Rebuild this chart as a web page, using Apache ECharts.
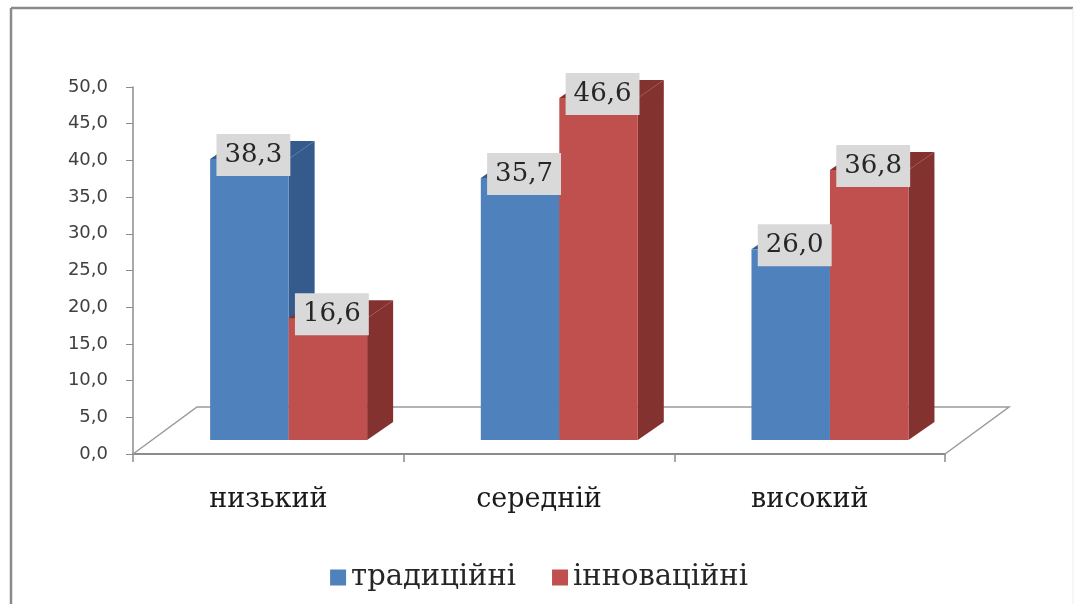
<!DOCTYPE html>
<html>
<head>
<meta charset="utf-8">
<script src="https://cdn.jsdelivr.net/npm/echarts@6/dist/echarts.min.js"></script>
<style>
  html, body { margin: 0; padding: 0; background: #fff; }
  #chart { width: 1078px; height: 604px; }
</style>
</head>
<body>
<div id="chart"></div>
<script>
// дані діаграми
const categories = ['низький', 'середній', 'високий'];
const traditional = [38.3, 35.7, 26.0];
const innovative = [16.6, 46.6, 36.8];
const seriesNames = ['традиційні', 'інноваційні'];

const fmt = (v) => v.toFixed(1).replace('.', ',');

// 3D-стовпчик: передня грань, бічна грань, верх і підпис
const barRenderer = (slot, front, dark) => (params, api) => {
    const cat = api.value(0);
    const val = api.value(1);
    const base = api.coord([cat, 0]);
    const top = api.coord([cat, val]);
    const catW = api.size([1, 0])[0];
    const bw = catW * 0.29;
    const sx = catW * 0.075;
    const sy = 14;
    const dx = 26, dy = 18;
    const x0 = base[0] + sx + (slot === 0 ? -bw : 0);
    const yb = base[1] - sy;
    const yt = top[1] - sy;
    return {
        type: 'group',
        children: [
            {
                type: 'polygon',
                shape: { points: [[x0 + bw, yt], [x0 + bw + dx, yt - dy], [x0 + bw + dx, yb - dy], [x0 + bw, yb]] },
                style: { fill: dark }
            },
            {
                type: 'polygon',
                shape: { points: [[x0, yt], [x0 + dx, yt - dy], [x0 + bw + dx, yt - dy], [x0 + bw, yt]] },
                style: { fill: dark }
            },
            {
                type: 'rect',
                shape: { x: x0, y: yt, width: bw, height: yb - yt },
                style: { fill: front }
            },
            {
                type: 'text',
                z2: 50,
                style: {
                    text: fmt(val),
                    x: x0 + bw / 2 + 4,
                    y: yt - 4,
                    align: 'center',
                    verticalAlign: 'middle',
                    font: '26px "DejaVu Serif"',
                    fill: '#262626',
                    backgroundColor: '#d9d9d9',
                    padding: [8, 8, 8, 8]
                }
            }
        ]
    };
};

// підлога (паралелограм)
const floorRenderer = (params, api) => {
    const cs = params.coordSys;
    const fx = cs.x, fy = cs.y + cs.height;
    const rx = cs.x + cs.width;
    const ddx = 64, ddy = 47;
    return {
        type: 'polyline',
        shape: { points: [[fx, fy], [fx + ddx, fy - ddy], [rx + ddx, fy - ddy], [rx, fy]] },
        style: { stroke: '#9a9a9a', lineWidth: 1.5, fill: null }
    };
};

const chart = echarts.init(document.getElementById('chart'));
const option = {
    animation: false,
    backgroundColor: '#fff',
    graphic: [
        { type: 'line', shape: { x1: 11, y1: 8, x2: 1073, y2: 8 }, style: { stroke: '#8a8a8a', lineWidth: 2.5 } },
        { type: 'line', shape: { x1: 11, y1: 8, x2: 11, y2: 604 }, style: { stroke: '#8a8a8a', lineWidth: 2.5 } },
        { type: 'line', shape: { x1: 1073, y1: 8, x2: 1073, y2: 604 }, style: { stroke: '#ededed', lineWidth: 1 } }
    ],
    legend: {
        data: seriesNames,
        top: 558,
        left: 'center',
        icon: 'rect',
        itemWidth: 16,
        itemHeight: 16,
        itemGap: 36,
        textStyle: { fontFamily: 'DejaVu Serif', fontSize: 29, color: '#262626' }
    },
    grid: { left: 133, right: 133, top: 87, bottom: 150 },
    xAxis: {
        type: 'category',
        data: categories,
        axisLine: { lineStyle: { color: '#8c8c8c', width: 2 } },
        axisTick: { show: true, length: 8, lineStyle: { color: '#8c8c8c', width: 1.5 } },
        axisLabel: { margin: 32, fontFamily: 'DejaVu Serif', fontSize: 27, color: '#1a1a1a' },
        splitLine: { show: false }
    },
    yAxis: {
        type: 'value',
        min: 0,
        max: 50,
        interval: 5,
        axisLine: { show: true, lineStyle: { color: '#8c8c8c', width: 1.5 } },
        axisTick: { show: true, length: 7, lineStyle: { color: '#8c8c8c' } },
        axisLabel: { margin: 25, fontFamily: 'DejaVu Sans', fontSize: 18, color: '#404040', formatter: fmt },
        splitLine: { show: false }
    },
    series: [
        {
            name: 'floor',
            type: 'custom',
            silent: true,
            renderItem: floorRenderer,
            data: [[0, 0]],
            z: 1
        },
        {
            name: seriesNames[0],
            type: 'custom',
            itemStyle: { color: '#4f81bd' },
            renderItem: barRenderer(0, '#4f81bd', '#345b8c'),
            data: traditional.map((v, i) => [i, v]),
            encode: { x: 0, y: 1 }
        },
        {
            name: seriesNames[1],
            type: 'custom',
            itemStyle: { color: '#c0504d' },
            renderItem: barRenderer(1, '#c0504d', '#843230'),
            data: innovative.map((v, i) => [i, v]),
            encode: { x: 0, y: 1 }
        }
    ]
};
chart.setOption(option);
</script>
</body>
</html>
